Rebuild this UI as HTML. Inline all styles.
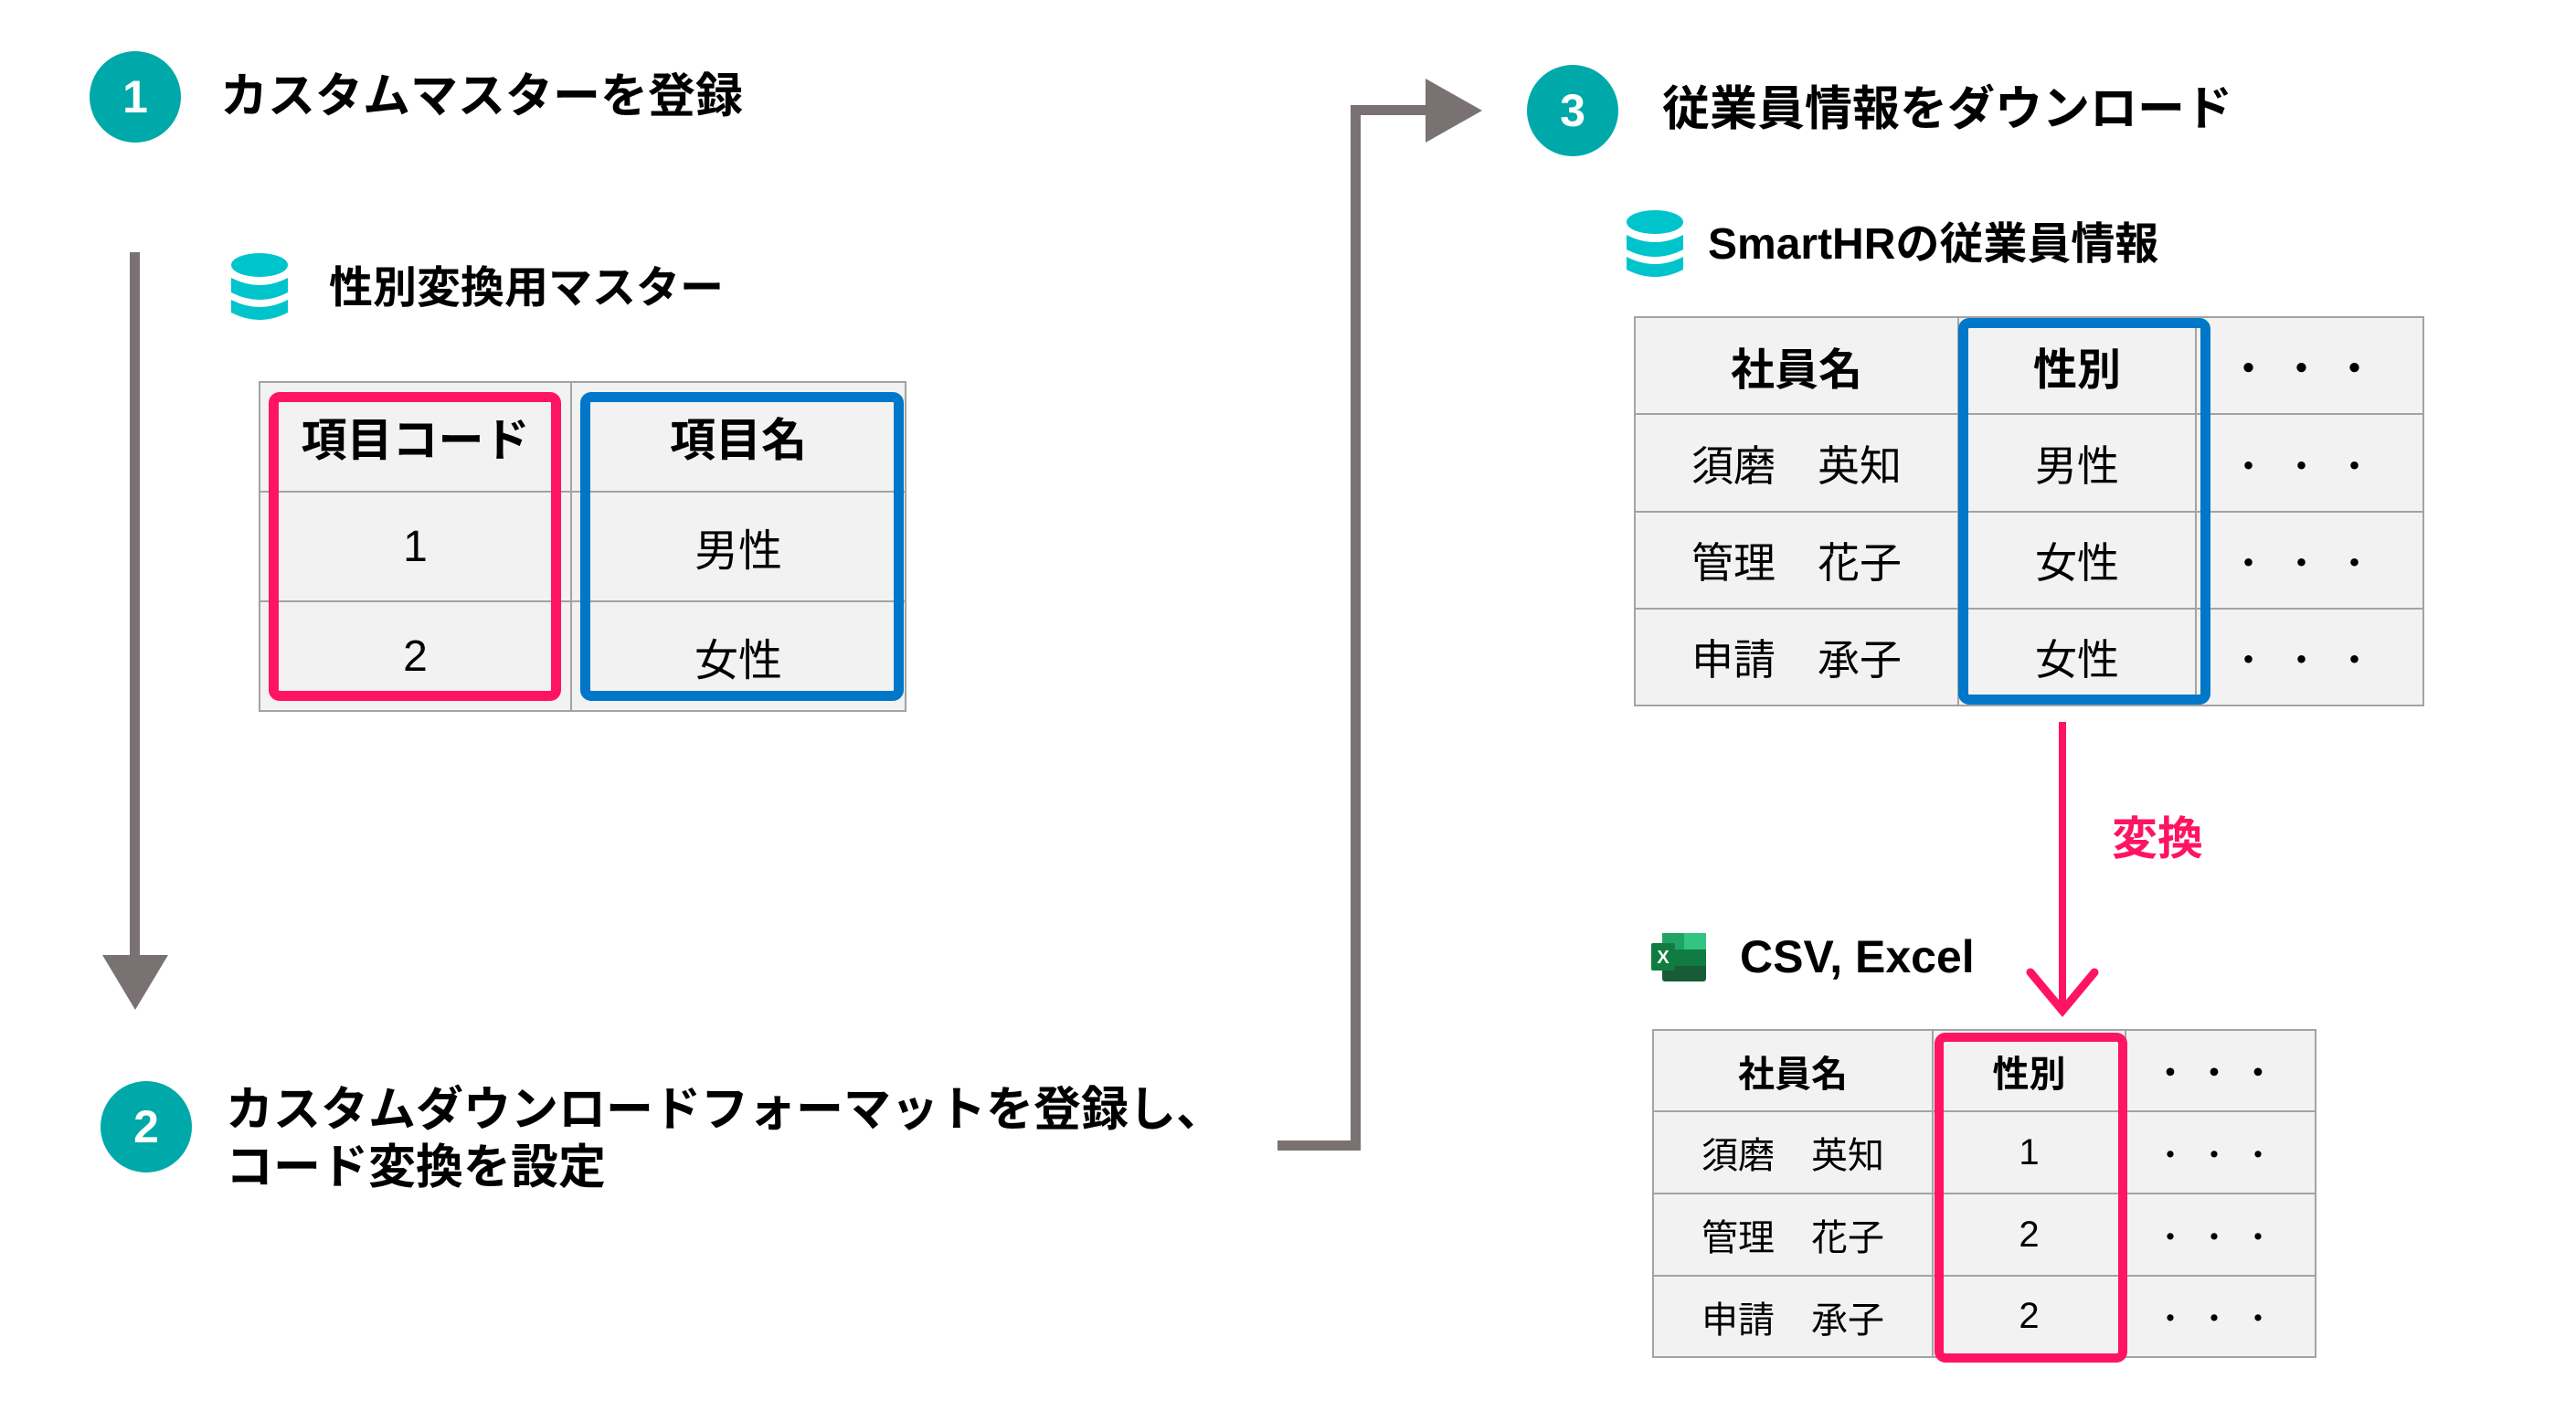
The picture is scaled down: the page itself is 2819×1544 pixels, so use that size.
<!DOCTYPE html>
<html><head><meta charset="utf-8"><style>
*{margin:0;padding:0;box-sizing:border-box}
body{width:2819px;height:1544px;background:#fff;position:relative;overflow:hidden;font-family:"Liberation Sans","Noto Sans CJK JP",sans-serif;color:#000}
.a{position:absolute}
.t{position:absolute;white-space:nowrap;font-weight:700}
.c{position:absolute;border-radius:50%;background:#00a9a9;color:#fff;font-weight:700;text-align:center}
.cell{position:absolute;background:#f2f2f2;border:2px solid #a3a3a3;display:flex;align-items:center;justify-content:center;white-space:nowrap}
.box{position:absolute;border-radius:12px}
</style></head><body>

<!-- Step 1 -->
<div class="c" style="left:98px;top:56px;width:100px;height:100px;line-height:100px;font-size:50px">1</div>
<div class="t" style="left:241px;top:76px;font-size:52px;line-height:60px">カスタムマスターを登録</div>

<!-- DB icon 1 -->
<svg class="a" style="left:252px;top:276px" width="64" height="80" viewBox="0 0 64 80">
<ellipse cx="32" cy="14" rx="31" ry="13" fill="#00c4cc"/>
<path d="M1 28 Q32 44 63 28 V44 Q32 60 1 44Z" fill="#00c4cc"/>
<path d="M1 52 Q32 68 63 52 V66 Q32 82 1 66Z" fill="#00c4cc"/>
</svg>
<div class="t" style="left:360px;top:286px;font-size:48px;line-height:60px">性別変換用マスター</div>

<!-- Table 1 -->
<div class="cell" style="left:283px;top:417px;width:343px;height:122px;font-size:50px;font-weight:700">項目コード</div>
<div class="cell" style="left:624px;top:417px;width:368px;height:122px;font-size:50px;font-weight:700">項目名</div>
<div class="cell" style="left:283px;top:537px;width:343px;height:122px;font-size:48px">1</div>
<div class="cell" style="left:624px;top:537px;width:368px;height:122px;font-size:48px">男性</div>
<div class="cell" style="left:283px;top:657px;width:343px;height:122px;font-size:48px">2</div>
<div class="cell" style="left:624px;top:657px;width:368px;height:122px;font-size:48px">女性</div>
<div class="box" style="left:294px;top:429px;width:320px;height:338px;border:11px solid #ff1461"></div>
<div class="box" style="left:635px;top:429px;width:354px;height:338px;border:11px solid #0077c8"></div>

<!-- Vertical gray arrow -->
<div class="a" style="left:142px;top:276px;width:11px;height:775px;background:#7a7272"></div>
<svg class="a" style="left:112px;top:1045px" width="72" height="60"><polygon points="0,0 72,0 36,60" fill="#7a7272"/></svg>

<!-- Step 2 -->
<div class="c" style="left:110px;top:1183px;width:100px;height:100px;line-height:100px;font-size:50px">2</div>
<div class="t" style="left:247px;top:1184px;font-size:52px;line-height:63px">カスタムダウンロードフォーマットを登録し、<br>コード変換を設定</div>

<!-- Gray connector to step 3 -->
<div class="a" style="left:1398px;top:1248px;width:91px;height:11px;background:#7a7272"></div>
<div class="a" style="left:1478px;top:115px;width:11px;height:1144px;background:#7a7272"></div>
<div class="a" style="left:1478px;top:115px;width:90px;height:11px;background:#7a7272"></div>
<svg class="a" style="left:1560px;top:86px" width="62" height="70"><polygon points="0,0 62,35 0,70" fill="#7a7272"/></svg>

<!-- Step 3 -->
<div class="c" style="left:1671px;top:71px;width:100px;height:100px;line-height:100px;font-size:50px">3</div>
<div class="t" style="left:1819px;top:90px;font-size:52px;line-height:60px">従業員情報をダウンロード</div>

<svg class="a" style="left:1779px;top:229px" width="64" height="80" viewBox="0 0 64 80">
<ellipse cx="32" cy="14" rx="31" ry="13" fill="#00c4cc"/>
<path d="M1 28 Q32 44 63 28 V44 Q32 60 1 44Z" fill="#00c4cc"/>
<path d="M1 52 Q32 68 63 52 V66 Q32 82 1 66Z" fill="#00c4cc"/>
</svg>
<div class="t" style="left:1869px;top:238px;font-size:48px;line-height:60px">SmartHRの従業員情報</div>

<!-- Table 2 -->
<div class="cell" style="left:1788px;top:346px;width:356px;height:108px;font-size:48px;font-weight:700">社員名</div>
<div class="cell" style="left:2142px;top:346px;width:262px;height:108px;font-size:48px;font-weight:700">性別</div>
<div class="cell" style="left:2402px;top:346px;width:251px;height:108px;font-size:40px;font-weight:700;letter-spacing:18px">・・・</div>
<div class="cell" style="left:1788px;top:452px;width:356px;height:109px;font-size:46px">須磨　英知</div>
<div class="cell" style="left:2142px;top:452px;width:262px;height:109px;font-size:46px">男性</div>
<div class="cell" style="left:2402px;top:452px;width:251px;height:109px;font-size:40px;letter-spacing:18px">・・・</div>
<div class="cell" style="left:1788px;top:559px;width:356px;height:108px;font-size:46px">管理　花子</div>
<div class="cell" style="left:2142px;top:559px;width:262px;height:108px;font-size:46px">女性</div>
<div class="cell" style="left:2402px;top:559px;width:251px;height:108px;font-size:40px;letter-spacing:18px">・・・</div>
<div class="cell" style="left:1788px;top:665px;width:356px;height:108px;font-size:46px">申請　承子</div>
<div class="cell" style="left:2142px;top:665px;width:262px;height:108px;font-size:46px">女性</div>
<div class="cell" style="left:2402px;top:665px;width:251px;height:108px;font-size:40px;letter-spacing:18px">・・・</div>
<div class="box" style="left:2143px;top:348px;width:276px;height:423px;border:11px solid #0077c8"></div>

<!-- Pink arrow -->
<svg class="a" style="left:2210px;top:790px" width="100" height="325">
<line x1="47" y1="0" x2="47" y2="318" stroke="#ff1461" stroke-width="8"/>
<polyline points="12,274 47,316 82,274" fill="none" stroke="#ff1461" stroke-width="9" stroke-linecap="round" stroke-linejoin="miter"/>
</svg>
<div class="t" style="left:2311px;top:888px;font-size:50px;line-height:60px;color:#ff1461">変換</div>

<!-- Excel icon -->
<svg class="a" style="left:1807px;top:1021px" width="62" height="53" viewBox="0 0 62 53">
<rect x="12" y="0" width="48" height="53" rx="3" fill="#185c37"/>
<rect x="12" y="0" width="48" height="18" fill="#21a366"/>
<rect x="36" y="0" width="24" height="18" fill="#33c481"/>
<rect x="12" y="18" width="48" height="18" fill="#107c41"/>
<rect x="0" y="11" width="26" height="30" rx="2" fill="#107c41"/>
<text x="13" y="33" font-size="20" fill="#fff" text-anchor="middle" font-family="Liberation Sans" font-weight="700">X</text>
</svg>
<div class="t" style="left:1904px;top:1017px;font-size:50px;line-height:60px">CSV, Excel</div>

<!-- Table 3 -->
<div class="cell" style="left:1808px;top:1126px;width:308px;height:91px;font-size:40px;font-weight:700">社員名</div>
<div class="cell" style="left:2114px;top:1126px;width:213px;height:91px;font-size:40px;font-weight:700">性別</div>
<div class="cell" style="left:2325px;top:1126px;width:210px;height:91px;font-size:34px;font-weight:700;letter-spacing:14px">・・・</div>
<div class="cell" style="left:1808px;top:1215px;width:308px;height:92px;font-size:40px">須磨　英知</div>
<div class="cell" style="left:2114px;top:1215px;width:213px;height:92px;font-size:40px">1</div>
<div class="cell" style="left:2325px;top:1215px;width:210px;height:92px;font-size:34px;letter-spacing:14px">・・・</div>
<div class="cell" style="left:1808px;top:1305px;width:308px;height:92px;font-size:40px">管理　花子</div>
<div class="cell" style="left:2114px;top:1305px;width:213px;height:92px;font-size:40px">2</div>
<div class="cell" style="left:2325px;top:1305px;width:210px;height:92px;font-size:34px;letter-spacing:14px">・・・</div>
<div class="cell" style="left:1808px;top:1395px;width:308px;height:91px;font-size:40px">申請　承子</div>
<div class="cell" style="left:2114px;top:1395px;width:213px;height:91px;font-size:40px">2</div>
<div class="cell" style="left:2325px;top:1395px;width:210px;height:91px;font-size:34px;letter-spacing:14px">・・・</div>
<div class="box" style="left:2117px;top:1130px;width:211px;height:361px;border:10px solid #ff1461"></div>

</body></html>
